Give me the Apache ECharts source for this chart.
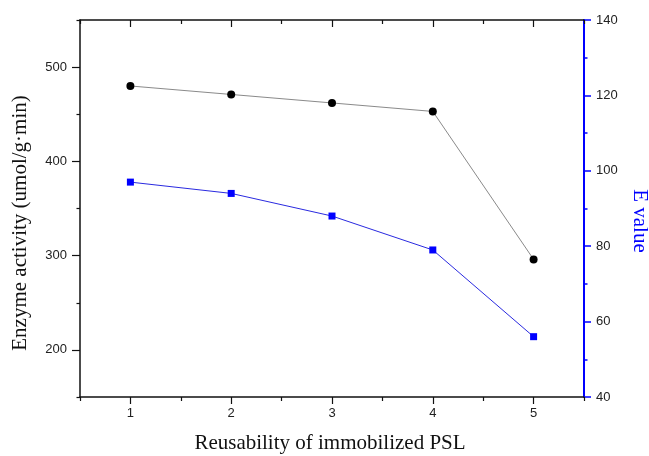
<!DOCTYPE html>
<html><head><meta charset="utf-8">
<script src="https://cdn.jsdelivr.net/npm/echarts@6/dist/echarts.min.js"></script>
<style>html,body{margin:0;padding:0;background:#fff}#c{width:649px;height:456px}</style>
</head><body><div id="c"></div>
<script>
const cycles = [1, 2, 3, 4, 5];
const enzymeActivity = [480, 471, 462, 453, 296];
const eValue = [97, 94, 88, 79, 56];
const xMajorTicks = [1, 2, 3, 4, 5];
const xMinorTicks = [0.5, 1.5, 2.5, 3.5, 4.5, 5.5];
const leftMajorTicks = [200, 300, 400, 500];
const leftMinorTicks = [150, 250, 350, 450, 550];

const chart = echarts.init(document.getElementById('c'));
const labelFont = {fontFamily: 'Liberation Sans', fontSize: 13, color: '#222'};
const black = '#111';
const blue = '#0000ff';
const xBase = {min: 0.5, max: 5.5, type: 'value', splitLine: {show: false}, gridIndex: 0};
const yLeftBase = {min: 150, max: 550, type: 'value', position: 'left', splitLine: {show: false}};
chart.setOption({
  animation: false,
  backgroundColor: '#fff',
  grid: {left: 80, right: 65, top: 20, bottom: 59, containLabel: false},
  xAxis: [
    Object.assign({}, xBase, {position: 'bottom',
      axisLine: {show: true, onZero: false, lineStyle: {color: black, width: 1.5}},
      axisTick: {show: true, customValues: xMajorTicks, length: 7, inside: false, lineStyle: {color: black, width: 1.2}},
      axisLabel: Object.assign({customValues: xMajorTicks, margin: 10}, labelFont)}),
    Object.assign({}, xBase, {position: 'bottom',
      axisLine: {show: false, onZero: false},
      axisTick: {show: true, customValues: xMinorTicks, length: 4, inside: false, lineStyle: {color: black, width: 1.2}},
      axisLabel: {show: false}}),
    Object.assign({}, xBase, {position: 'top',
      axisLine: {show: true, onZero: false, lineStyle: {color: black, width: 1.5}},
      axisTick: {show: true, customValues: xMajorTicks, length: 7, inside: true, lineStyle: {color: black, width: 1.2}},
      axisLabel: {show: false}}),
    Object.assign({}, xBase, {position: 'top',
      axisLine: {show: false, onZero: false},
      axisTick: {show: true, customValues: xMinorTicks, length: 4, inside: true, lineStyle: {color: black, width: 1.2}},
      axisLabel: {show: false}})
  ],
  yAxis: [
    Object.assign({}, yLeftBase, {
      axisLine: {show: true, onZero: false, lineStyle: {color: black, width: 1.5}},
      axisTick: {show: true, customValues: leftMajorTicks, length: 8, lineStyle: {color: black, width: 1.2}},
      axisLabel: Object.assign({customValues: leftMajorTicks, margin: 13}, labelFont)}),
    Object.assign({}, yLeftBase, {
      axisLine: {show: false, onZero: false},
      axisTick: {show: true, customValues: leftMinorTicks, length: 3.5, lineStyle: {color: black, width: 1.2}},
      axisLabel: {show: false}}),
    {type: 'value', position: 'right', min: 40, max: 140, interval: 20,
      splitLine: {show: false},
      axisLine: {show: true, onZero: false, lineStyle: {color: blue, width: 2}},
      axisTick: {show: true, length: 7, lineStyle: {color: blue, width: 1.5}},
      minorTick: {show: true, splitNumber: 2, length: 3.5, lineStyle: {color: blue, width: 1.5}},
      minorSplitLine: {show: false},
      axisLabel: Object.assign({margin: 12}, labelFont)}
  ],
  graphic: [
    {type: 'text', x: 20, y: 223, rotation: Math.PI / 2,
      style: {text: 'Enzyme activity (umol/g·min)', font: '21px "Liberation Serif"', fill: '#111', textAlign: 'center', textVerticalAlign: 'middle'}},
    {type: 'text', x: 330, y: 443,
      style: {text: 'Reusability of immobilized PSL', font: '21px "Liberation Serif"', fill: '#111', textAlign: 'center', textVerticalAlign: 'middle'}},
    {type: 'text', x: 640, y: 221, rotation: -Math.PI / 2,
      style: {text: 'E value', font: '21px "Liberation Serif"', fill: blue, textAlign: 'center', textVerticalAlign: 'middle'}}
  ],
  series: [
    {type: 'line', xAxisIndex: 0, yAxisIndex: 0,
      data: cycles.map((c, i) => [c, enzymeActivity[i]]),
      symbol: 'circle', symbolSize: 8,
      itemStyle: {color: '#000'},
      lineStyle: {color: '#8a8a8a', width: 1}},
    {type: 'line', xAxisIndex: 0, yAxisIndex: 2,
      data: cycles.map((c, i) => [c, eValue[i]]),
      symbol: 'rect', symbolSize: 7,
      itemStyle: {color: blue},
      lineStyle: {color: '#2a2ae0', width: 1}}
  ]
});
</script></body></html>
